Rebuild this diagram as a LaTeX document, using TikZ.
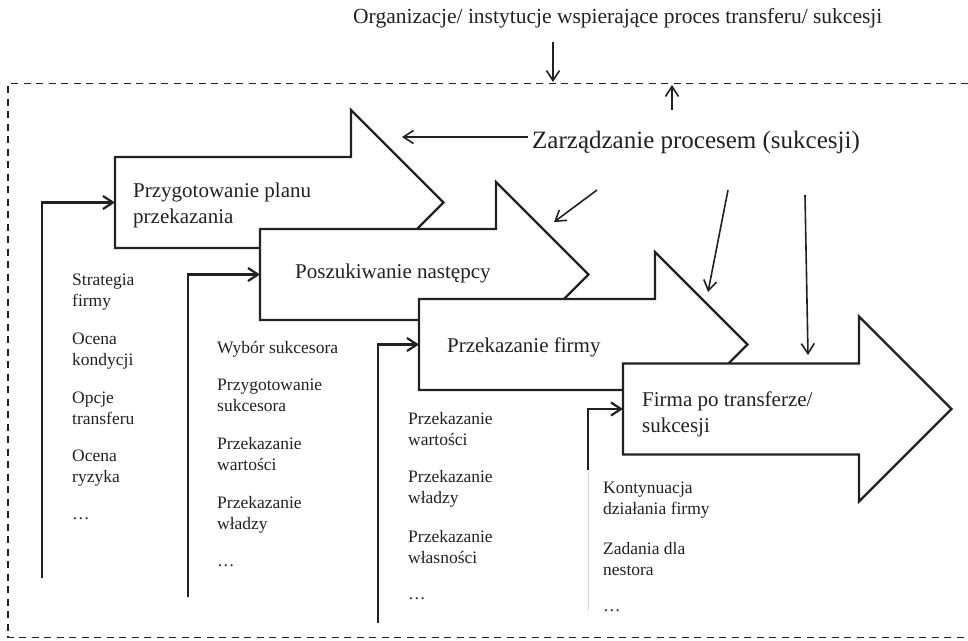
\documentclass[tikz,border=0pt]{standalone}
\usepackage{fontspec}
\setmainfont{Liberation Serif}
\usepackage{tikz}
\usetikzlibrary{arrows.meta,positioning}

\definecolor{ink}{gray}{0.13}

\tikzset{
  stage/.style={draw=ink, line width=2.2pt, fill=white, line join=miter},
  stagelabel/.style={anchor=base west, inner sep=0pt, align=left, text=ink,
    font=\fontsize{21}{26}\selectfont},
  tasklist/.style={anchor=base west, inner sep=0pt, align=left, text=ink,
    font=\fontsize{17.5}{21}\selectfont},
  feed/.style={draw=ink, line width=2.2pt, ->},
  manage/.style={draw=ink, line width=1.6pt, ->},
  frame/.style={draw=ink, line width=1.8pt, dash pattern=on 7pt off 5.5pt},
}

\begin{document}
\begin{tikzpicture}[x=1pt, y=-1pt, >={Straight Barb[length=10pt,width=13pt]}]
  \useasboundingbox (0,0) rectangle (968,640);

  % outer frame
  \draw[frame] (968,83.5) -| (8,637.5) -- (968,637.5);

  % stages
  \foreach \tx/\ty/\nm in {115/202.5/plan, 260/274.5/search, 419/344.5/hand, 623/409/after}{
    \draw[stage] (\tx,\ty-45.5) -- ++(236,0) -- ++(0,-47) -- ++(92.5,92.5)
      -- ++(-92.5,92.5) -- ++(0,-47) -- ++(-236,0) -- cycle;
    \coordinate (\nm) at (\tx,\ty);
  }

  % base anchor = last line
  \node[stagelabel] (planlbl) at (133,223.5) {Przygotowanie planu\\przekazania};
  \node[stagelabel] (searchlbl) at (295,278) {Poszukiwanie następcy};
  \node[stagelabel] (handlbl) at (447,352) {Przekazanie firmy};
  \node[stagelabel] (afterlbl) at (642,432) {Firma po transferze/\\sukcesji};

  % task lists
  \node[tasklist] (planlist) at (72,519)
    {Strategia\\firmy\\[17pt]Ocena\\kondycji\\[17pt]Opcje\\transferu\\[16pt]Ocena\\ryzyka\\[16pt]…};
  \node[tasklist] (searchlist) at (217,566)
    {Wybór sukcesora\\[16pt]Przygotowanie\\sukcesora\\[17pt]Przekazanie\\wartości\\[17pt]Przekazanie\\władzy\\[16pt]…};
  \node[tasklist] (handlist) at (408,599)
    {Przekazanie\\wartości\\[16pt]Przekazanie\\władzy\\[18pt]Przekazanie\\własności\\[15pt]…};
  \node[tasklist] (afterlist) at (603,611)
    {Kontynuacja\\działania firmy\\[19pt]Zadania dla\\nestora\\[15pt]…};

  % feed lines
  \coordinate (f1) at (42,578);
  \coordinate (f2) at (188,597);
  \coordinate (f3) at (378,623);
  \coordinate (f4) at (588,470);
  \coordinate (f4low) at (588,610);
  \draw[feed] (f1) |- (plan);
  \draw[feed] (f2) |- (search);
  \draw[feed] (f3) |- (hand);
  \draw[feed] (f4) |- (after);
  \draw[gray!35, line width=0.6pt] (f4) -- (f4low);

  % support organisations
  \node[anchor=base west, inner sep=0pt, text=ink, font=\fontsize{21.5}{26}\selectfont]
    (org) at (353,23) {Organizacje/ instytucje wspierające proces transferu/ sukcesji};
  \coordinate (orgfrom) at (553,42);
  \coordinate (orgto) at (553,82);
  \draw[manage] (orgfrom) -- (orgto);

  % process management
  \node[anchor=base west, inner sep=0pt, text=ink, font=\fontsize{25}{30}\selectfont]
    (zarz) at (532,148) {Zarządzanie procesem (sukcesji)};
  \coordinate (toplan) at (402,137);
  \coordinate (upfrom) at (672,110);
  \coordinate (upto) at (672,85);
  \coordinate (d1from) at (597,190);
  \coordinate (d1to) at (554,222);
  \coordinate (d2from) at (728,190);
  \coordinate (d2to) at (708,292);
  \coordinate (d3from) at (805,195);
  \coordinate (d3to) at (808,355);
  \draw[manage, shorten <=4pt] (zarz.west |- toplan) -- (toplan);
  \draw[manage] (upfrom) -- (upto);
  \draw[manage] (d1from) -- (d1to);
  \draw[manage] (d2from) -- (d2to);
  \draw[manage] (d3from) -- (d3to);
\end{tikzpicture}
\end{document}
